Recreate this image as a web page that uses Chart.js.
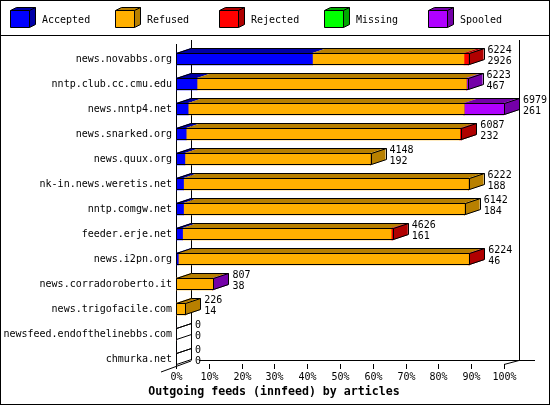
<!DOCTYPE html>
<html>
<head>
<meta charset="utf-8">
<script src="https://cdn.jsdelivr.net/npm/chart.js@4/dist/chart.umd.min.js"></script>
<style>
html,body{margin:0;padding:0;background:#fff;}
canvas{display:block;}
</style>
</head>
<body>
<canvas id="c" width="550" height="405"></canvas>
<script>
const categories = ['news.novabbs.org','nntp.club.cc.cmu.edu','news.nntp4.net','news.snarked.org','news.quux.org','nk-in.news.weretis.net','nntp.comgw.net','feeder.erje.net','news.i2pn.org','news.corradoroberto.it','news.trigofacile.com','newsfeed.endofthelinebbs.com','chmurka.net'];
const seriesNames = ['Accepted','Refused','Rejected','Missing','Spooled'];
const accepted = [41.6, 6.4, 3.7, 3.1, 2.7, 2.3, 2.3, 2.0, 0.7, 0, 0, 0, 0];
const refused  = [46.2, 82.1, 84.1, 83.4, 56.6, 86.9, 85.7, 63.6, 88.5, 11.2, 2.8, 0, 0];
const rejected = [1.4, 0, 0, 0.5, 0, 0, 0, 0.5, 0.2, 0, 0, 0, 0];
const missing  = [0, 0, 0, 0, 0, 0, 0, 0, 0, 0, 0, 0, 0];
const spooled  = [0, 0.4, 12.2, 0, 0, 0, 0, 0, 0, 0.2, 0, 0, 0];
const offeredCounts  = [6224, 6223, 6979, 6087, 4148, 6222, 6142, 4626, 6224, 807, 226, 0, 0];
const acceptedCounts = [2926, 467, 261, 232, 192, 188, 184, 161, 46, 38, 14, 0, 0];
const tickLabels = ['0%','10%','20%','30%','40%','50%','60%','70%','80%','90%','100%'];
const titleText = 'Outgoing feeds (innfeed) by articles';

const frontColors = ['#0000ff','#ffb000','#ff0000','#00ff00','#b000ff'];
const darkColors  = ['#0000a8','#b88000','#b00000','#00a800','#7400a8'];
const FONT = '"DejaVu Sans Mono", "Liberation Mono", monospace';
const DX = 15, DY = 5;

const seriesData = [accepted, refused, rejected, missing, spooled];

const threeD = {
  id: 'threeD',
  beforeDraw(chart) {
    const ctx = chart.ctx;
    ctx.save();
    ctx.fillStyle = '#fff';
    ctx.fillRect(0, 0, chart.width, chart.height);
    const xs = chart.scales.x;
    const left = Math.round(xs.getPixelForValue(0));
    const right = Math.round(xs.getPixelForValue(100));
    ctx.strokeStyle = '#000';
    ctx.lineWidth = 1;
    const line = (x1,y1,x2,y2) => { ctx.beginPath(); ctx.moveTo(x1,y1); ctx.lineTo(x2,y2); ctx.stroke(); };
    // back walls and floor
    line(left + DX + 0.5, 40, left + DX + 0.5, 360.5);
    line(right + DX + 0.5, 40, right + DX + 0.5, 360.5);
    line(left + DX + 8, 360.5, 535, 360.5);
    line(161, 372, left + DX, 361);
    line(right, 364.5, right + DX, 360.5);
    // front left axis
    line(left + 0.5, 44, left + 0.5, 367);
    ctx.restore();
  },
  afterDatasetsDraw(chart) {
    const ctx = chart.ctx;
    const xs = chart.scales.x;
    const n = categories.length;
    ctx.save();
    ctx.lineWidth = 1;
    for (let i = 0; i < n; i++) {
      const segs = [];
      let y = 0, h = 0;
      chart.data.datasets.forEach((ds, d) => {
        const el = chart.getDatasetMeta(d).data[i];
        const p = el.getProps(['x','base','y','height'], true);
        y = p.y; h = p.height;
        const x0 = Math.min(p.x, p.base), x1 = Math.max(p.x, p.base);
        if (x1 - x0 > 0.01) segs.push({x0, x1, d});
      });
      const top = y - h / 2, bottom = y + h / 2;
      const bx0 = xs.getPixelForValue(0);
      let total = 0;
      seriesData.forEach(s => total += s[i]);
      const bx1 = xs.getPixelForValue(total);
      // top faces
      segs.forEach(s => {
        ctx.fillStyle = darkColors[s.d];
        ctx.beginPath();
        ctx.moveTo(s.x0, top);
        ctx.lineTo(s.x0 + DX, top - DY);
        ctx.lineTo(s.x1 + DX, top - DY);
        ctx.lineTo(s.x1, top);
        ctx.closePath();
        ctx.fill();
      });
      // side face
      if (segs.length) {
        const last = segs[segs.length - 1];
        ctx.fillStyle = darkColors[last.d];
        ctx.beginPath();
        ctx.moveTo(bx1, top);
        ctx.lineTo(bx1 + DX, top - DY);
        ctx.lineTo(bx1 + DX, bottom - DY);
        ctx.lineTo(bx1, bottom);
        ctx.closePath();
        ctx.fill();
      }
      // outline
      ctx.strokeStyle = '#000';
      ctx.beginPath();
      const a = Math.round(bx0) + 0.5, b = Math.round(bx1) + 0.5;
      const t = Math.round(top) + 0.5, btm = Math.round(bottom) - 0.5;
      ctx.moveTo(a, btm);
      ctx.lineTo(a, t);
      ctx.lineTo(a + DX, t - DY);
      ctx.lineTo(b + DX, t - DY);
      ctx.lineTo(b + DX, btm - DY);
      ctx.lineTo(b, btm);
      ctx.closePath();
      ctx.moveTo(a, t); ctx.lineTo(b, t);
      ctx.moveTo(b, t); ctx.lineTo(b, btm);
      ctx.moveTo(b, t); ctx.lineTo(b + DX, t - DY);
      ctx.stroke();
      // value labels
      ctx.fillStyle = '#000';
      ctx.font = '10px ' + FONT;
      ctx.textAlign = 'left';
      ctx.textBaseline = 'middle';
      ctx.fillText(String(offeredCounts[i]), bx1 + 19, y - 9);
      ctx.fillText(String(acceptedCounts[i]), bx1 + 19, y + 2.5);
      // category label
      ctx.textAlign = 'right';
      ctx.fillText(categories[i], 172, y + 0.5);
    }
    // ticks and tick labels
    ctx.textAlign = 'center';
    ctx.textBaseline = 'middle';
    ctx.strokeStyle = '#000';
    tickLabels.forEach(lbl => {
      const v = parseFloat(lbl);
      const px = Math.round(xs.getPixelForValue(v)) + 0.5;
      ctx.beginPath(); ctx.moveTo(px, 364); ctx.lineTo(px, 369); ctx.stroke();
      ctx.fillText(lbl, px, 377);
    });
    // title
    ctx.font = 'bold 11.6px ' + FONT;
    ctx.fillText(titleText, 274, 392);
    // legend
    ctx.font = '10px ' + FONT;
    ctx.textAlign = 'left';
    seriesNames.forEach((name, k) => {
      const x0 = Math.round(10 + 104.5 * k) + 0.5;
      const yt = 10.5, w = 19, hh = 17, dx = 6, dy = 3;
      ctx.fillStyle = frontColors[k];
      ctx.fillRect(x0, yt, w, hh);
      ctx.fillStyle = darkColors[k];
      ctx.beginPath();
      ctx.moveTo(x0, yt); ctx.lineTo(x0 + dx, yt - dy); ctx.lineTo(x0 + w + dx, yt - dy);
      ctx.lineTo(x0 + w + dx, yt + hh - dy); ctx.lineTo(x0 + w, yt + hh); ctx.lineTo(x0 + w, yt);
      ctx.closePath(); ctx.fill();
      ctx.strokeStyle = '#000';
      ctx.beginPath();
      ctx.rect(x0, yt, w, hh);
      ctx.moveTo(x0, yt); ctx.lineTo(x0 + dx, yt - dy); ctx.lineTo(x0 + w + dx, yt - dy);
      ctx.lineTo(x0 + w + dx, yt + hh - dy); ctx.lineTo(x0 + w, yt + hh);
      ctx.moveTo(x0 + w, yt); ctx.lineTo(x0 + w + dx, yt - dy);
      ctx.stroke();
      ctx.fillStyle = '#000';
      ctx.fillText(name, x0 + 31.5, 20);
    });
    // separators and border
    ctx.beginPath();
    ctx.moveTo(0, 35.5); ctx.lineTo(550, 35.5);
    ctx.stroke();
    ctx.strokeRect(0.5, 0.5, 549, 404);
    ctx.restore();
  }
};

new Chart(document.getElementById('c'), {
  type: 'bar',
  data: {
    labels: categories,
    datasets: seriesNames.map((name, k) => ({
      label: name,
      data: seriesData[k],
      backgroundColor: frontColors[k],
      borderWidth: 0,
      barThickness: 12
    }))
  },
  options: {
    indexAxis: 'y',
    responsive: false,
    animation: false,
    devicePixelRatio: 1,
    layout: { padding: { left: 176, right: 46, top: 46.5, bottom: 33.5 } },
    plugins: { legend: { display: false }, tooltip: { enabled: false } },
    scales: {
      x: { display: false, stacked: true, min: 0, max: 100 },
      y: { display: false, stacked: true }
    }
  },
  plugins: [threeD]
});
</script>
</body>
</html>
